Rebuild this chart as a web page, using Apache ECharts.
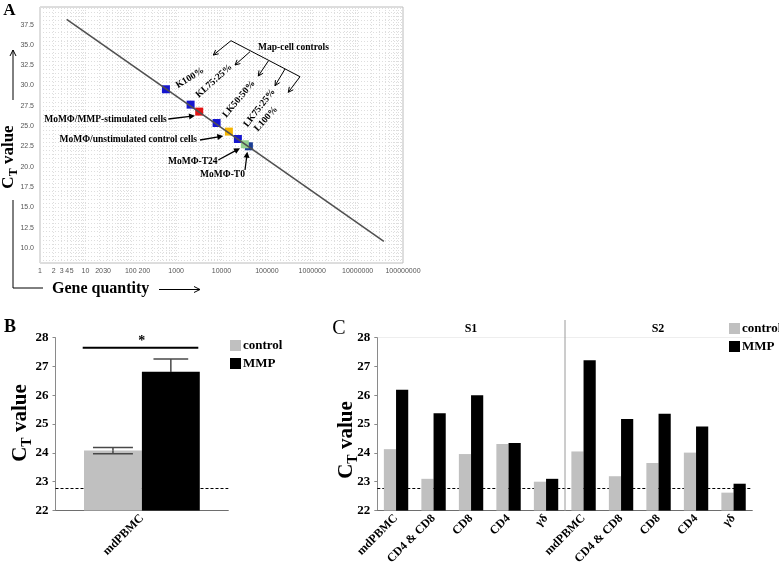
<!DOCTYPE html>
<html><head><meta charset="utf-8">
<script src="https://cdn.jsdelivr.net/npm/echarts@6/dist/echarts.min.js"></script>
<style>html,body{margin:0;padding:0;background:#fff}#c{width:779px;height:564px}</style>
</head><body><div id="c"></div>
<script>
// ---------- Panel A : standard curve ----------
const stdCurveQuantity = [3.87, 3.78e7];
const stdCurveCt = [38.15, 10.82];
const pointNames = ['L100%', 'K100%', 'KL75:25%', 'MoMΦ/MMP-stimulated cells', 'LK50:50%', 'MoMΦ/unstimulated control cells', 'LK75:25%', 'MoMΦ-T24'];
const pointQuantity = [40150, 596, 2085, 3228, 7800, 14550, 22970, 32700];
const pointCt = [22.52, 29.54, 27.65, 26.79, 25.39, 24.33, 23.42, 22.77];
const pointColors = ['#1b3e96', '#1616d0', '#1616d0', '#e21212', '#1616d0', '#f4b400', '#1616d0', '#94d090'];
const aYTickLabels = [10, 12.5, 15, 17.5, 20, 22.5, 25, 27.5, 30, 32.5, 35, 37.5];
const aXTickLabels = [1, 2, 3, 4, 5, 10, 20, 30, 100, 200, 1000, 10000, 100000, 1000000, 10000000, 100000000];

// ---------- Panel B ----------
const bCategories = ['mdPBMC'];
const bControl = [24.08];
const bControlErr = [0.11];
const bMMP = [26.82];
const bMMPErr = [0.44];
const thresholdCt = 22.78;

// ---------- Panel C ----------
const cSubjects = ['S1', 'S2'];
const cCellTypes = ['mdPBMC', 'CD4 & CD8', 'CD8', 'CD4', 'γδ'];
const cControlS1 = [24.13, 23.10, 23.96, 24.31, 23.00];
const cControlS2 = [24.05, 23.19, 23.65, 24.01, 22.62];
const cMMPS1 = [26.19, 25.38, 26.00, 24.34, 23.10];
const cMMPS2 = [27.22, 25.18, 25.36, 24.92, 22.93];

// ---------- helpers ----------
const SERIF = '"Liberation Serif","Times New Roman",serif';
const mctx = document.createElement('canvas').getContext('2d');
function tw(t, font) { mctx.font = font; return mctx.measureText(t).width; }

function txt(t, x, y, size, opts) {
  opts = opts || {};
  return {
    type: 'text', x: x, y: y, rotation: (opts.rot || 0) * Math.PI / 180, z: 50,
    style: {
      text: t, fill: opts.color || '#000',
      font: (opts.weight || 'bold') + ' ' + size + 'px ' + SERIF,
      align: opts.align || 'center', verticalAlign: 'middle'
    }
  };
}
function arrow(x1, y1, x2, y2, o) {
  o = o || {};
  const w = o.width || 1, h = o.head || 6, hw = o.headW || 3, col = o.color || '#000';
  const dx = x2 - x1, dy = y2 - y1, L = Math.hypot(dx, dy), ux = dx / L, uy = dy / L, nx = -uy, ny = ux;
  const bx = x2 - ux * h, by = y2 - uy * h;
  const els = [{ type: 'line', z: 50, shape: { x1: x1, y1: y1, x2: o.filled ? bx + ux : x2, y2: o.filled ? by + uy : y2 }, style: { stroke: col, lineWidth: w } }];
  const pts = [[bx + nx * hw, by + ny * hw], [x2, y2], [bx - nx * hw, by - ny * hw]];
  if (o.filled) els.push({ type: 'polygon', z: 50, shape: { points: pts }, style: { fill: col } });
  else els.push({ type: 'polyline', z: 50, shape: { points: pts }, style: { stroke: col, lineWidth: w, fill: null } });
  return els;
}
function ctTitle(cx, cy, s) {
  const fMain = 'bold ' + s + 'px ' + SERIF, sSub = Math.round(s * 0.68), fSub = 'bold ' + sSub + 'px ' + SERIF;
  const wC = tw('C', fMain), wT = tw('T', fSub), wV = tw(' value', fMain);
  const x0 = -(wC + wT + wV) / 2;
  const mk = (t, x, y, f) => ({ type: 'text', x: x, y: y, style: { text: t, font: f, fill: '#000', align: 'left', verticalAlign: 'middle' } });
  return {
    type: 'group', x: cx, y: cy, rotation: Math.PI / 2, z: 50,
    children: [mk('C', x0, 0, fMain), mk('T', x0 + wC, s * 0.3, fSub), mk(' value', x0 + wC + wT, 0, fMain)]
  };
}

// ---------- derived ----------
const log10 = Math.log10;
const aMinorX = [];
for (let d = 0; d < 8; d++) for (let k = 1; k < 10; k++) aMinorX.push(d + log10(k));
aMinorX.push(8);
const aMinorY = [];
for (let v = 8.5; v <= 39.5; v += 0.5) aMinorY.push(v);
const cCategories = [];
cSubjects.forEach(s => cCellTypes.forEach(c => cCategories.push(s + '|' + c)));
const cControl = cControlS1.concat(cControlS2);
const cMMP = cMMPS1.concat(cMMPS2);

const labelFontB = { fontFamily: SERIF, fontWeight: 'bold', fontSize: 13, color: '#000' };
const thresholdMark = {
  silent: true, symbol: 'none', z: 1, label: { show: false },
  lineStyle: { color: '#000', type: [3, 2], width: 1 },
  data: [{ yAxis: thresholdCt }]
};

const chart = echarts.init(document.getElementById('c'), null, { renderer: 'canvas', width: 779, height: 564 });

const graphics = [];
graphics.push(txt('A', 9.5, 11, 17));
graphics.push(txt('B', 10, 327.5, 18));
graphics.push(txt('C', 339, 329, 20, { weight: 'normal' }));
graphics.push(ctTitle(9, 157, 17));
graphics.push(ctTitle(21, 423, 21));
graphics.push(ctTitle(347, 440, 21));
graphics.push(txt('Gene quantity', 52, 289, 16, { align: 'left' }));
graphics.push(...arrow(13, 100, 13, 50, { head: 6, headW: 3 }));
graphics.push({ type: 'polyline', z: 50, shape: { points: [[13, 200], [13, 288], [43, 288]] }, style: { stroke: '#000', lineWidth: 1, fill: null } });
graphics.push(...arrow(159, 289.5, 200, 289.5, { head: 6, headW: 3 }));
graphics.push(txt('Map-cell controls', 293.5, 47.7, 9.5));
graphics.push(...arrow(231, 40.7, 213.3, 55, { head: 5, headW: 2.5 }));
graphics.push({ type: 'line', z: 50, shape: { x1: 231, y1: 40.7, x2: 300, y2: 76.7 }, style: { stroke: '#000', lineWidth: 1 } });
graphics.push(...arrow(250, 51.7, 235, 65, { head: 5, headW: 2.5 }));
graphics.push(...arrow(268.3, 61, 258.3, 76, { head: 5, headW: 2.5 }));
graphics.push(...arrow(285, 69, 275, 85.7, { head: 5, headW: 2.5 }));
graphics.push(...arrow(300, 76.7, 288.3, 92.3, { head: 5, headW: 2.5 }));
graphics.push(txt('K100%', 190, 78, 9.5, { rot: 32 }));
graphics.push(txt('KL75:25%', 214, 81, 9.5, { rot: 42 }));
graphics.push(txt('LK50:50%', 239, 99, 9.5, { rot: 50 }));
graphics.push(txt('LK75:25%', 259.5, 108, 9.5, { rot: 52 }));
graphics.push(txt('L100%', 266, 119, 9.5, { rot: 48 }));
graphics.push(txt('MoMΦ/MMP-stimulated cells', 105.5, 119.3, 9.5));
graphics.push(...arrow(168.3, 119, 195, 115.7, { filled: true, width: 1.3, head: 6, headW: 3 }));
graphics.push(txt('MoMΦ/unstimulated control cells', 128.3, 140, 9.5));
graphics.push(...arrow(200, 140, 223.3, 136, { filled: true, width: 1.3, head: 6, headW: 3 }));
graphics.push(txt('MoMΦ-T24', 192.8, 161.7, 9.5));
graphics.push(...arrow(218.3, 160, 240, 148.3, { filled: true, width: 1.3, head: 6, headW: 3 }));
graphics.push(txt('MoMΦ-T0', 222.5, 175, 9.5));
graphics.push(...arrow(245, 170, 247.3, 151.7, { filled: true, width: 1.3, head: 6, headW: 3 }));
graphics.push({ type: 'line', z: 50, shape: { x1: 82.7, y1: 347.7, x2: 198.3, y2: 347.7 }, style: { stroke: '#000', lineWidth: 2 } });
graphics.push(txt('*', 141.7, 341, 14));
graphics.push({ type: 'line', z: 1, shape: { x1: 378, y1: 337.5, x2: 752, y2: 337.5 }, style: { stroke: '#eeeeee', lineWidth: 1 } });
graphics.push({ type: 'line', z: 50, shape: { x1: 565, y1: 320, x2: 565, y2: 511 }, style: { stroke: '#9a9a9a', lineWidth: 1 } });
graphics.push(txt('S1', 471, 329, 12));
graphics.push(txt('S2', 658, 329, 12));

const legendBase = {
  orient: 'vertical', icon: 'rect', itemWidth: 11, itemHeight: 11, itemGap: 5, selectedMode: false,
  data: ['control', 'MMP'], padding: 0,
  textStyle: { fontFamily: SERIF, fontWeight: 'bold', fontSize: 13, color: '#000', padding: [0, 0, 0, -3] }
};
const gridLine = { show: true, lineStyle: { color: '#dedede', type: [1, 2], width: 1 } };
const smallSans = '"Liberation Sans Narrow","Liberation Sans",sans-serif';

const option = {
  animation: false,
  backgroundColor: '#fff',
  grid: [
    { left: 40, top: 7, width: 363, height: 256, show: true, borderColor: '#bcbcbc', borderWidth: 1, outerBoundsMode: 'none' },
    { left: 55.5, top: 337.7, width: 172.8, height: 172.8, outerBoundsMode: 'none' },
    { left: 377.3, top: 337.7, width: 375, height: 172.8, outerBoundsMode: 'none' }
  ],
  legend: [
    Object.assign({}, legendBase, { left: 230, top: 339 }),
    Object.assign({}, legendBase, { left: 729, top: 322 })
  ],
  xAxis: [
    {
      gridIndex: 0, type: 'value', min: 0, max: 8,
      axisLine: { show: false },
      axisTick: { show: false, customValues: aMinorX },
      axisLabel: {
        customValues: aXTickLabels.map(log10), formatter: v => String(Math.round(Math.pow(10, v))),
        fontSize: 7, color: '#555', margin: 5, fontFamily: smallSans
      },
      splitLine: gridLine
    },
    {
      gridIndex: 1, type: 'category', data: bCategories,
      axisLine: { lineStyle: { color: '#6e6e6e', width: 1 } }, axisTick: { show: false },
      axisLabel: { interval: 0, rotate: 45, margin: 6, fontFamily: SERIF, fontWeight: 'bold', fontSize: 12, color: '#000' }
    },
    {
      gridIndex: 2, type: 'category', data: cCategories,
      axisLine: { lineStyle: { color: '#6e6e6e', width: 1 } }, axisTick: { show: false },
      axisLabel: { interval: 0, rotate: 45, margin: 6, fontFamily: SERIF, fontWeight: 'bold', fontSize: 12, color: '#000', formatter: v => v.split('|')[1] }
    }
  ],
  yAxis: [
    {
      gridIndex: 0, type: 'value', min: 8.15, max: 39.67,
      axisLine: { show: false },
      axisTick: { show: false, customValues: aMinorY },
      axisLabel: {
        customValues: aYTickLabels, formatter: v => v.toFixed(1),
        fontSize: 7, color: '#555', margin: 6, fontFamily: smallSans
      },
      splitLine: gridLine
    },
    {
      gridIndex: 1, type: 'value', min: 22, max: 28, interval: 1,
      axisLine: { show: true, lineStyle: { color: '#8a8a8a' } },
      axisTick: { show: true, length: 3, lineStyle: { color: '#8a8a8a' } },
      axisLabel: Object.assign({ margin: 7 }, labelFontB),
      splitLine: { show: false }
    },
    {
      gridIndex: 2, type: 'value', min: 22, max: 28, interval: 1,
      axisLine: { show: true, lineStyle: { color: '#8a8a8a' } },
      axisTick: { show: true, length: 3, lineStyle: { color: '#8a8a8a' } },
      axisLabel: Object.assign({ margin: 7 }, labelFontB),
      splitLine: { show: false }
    }
  ],
  series: [
    {
      name: 'standard curve', type: 'line', xAxisIndex: 0, yAxisIndex: 0, symbol: 'none', silent: true,
      data: stdCurveQuantity.map((q, i) => [log10(q), stdCurveCt[i]]),
      lineStyle: { color: '#505050', width: 1.6 }
    },
    {
      name: 'samples', type: 'scatter', xAxisIndex: 0, yAxisIndex: 0, symbol: 'rect', symbolSize: 8,
      data: pointQuantity.map((q, i) => ({ name: pointNames[i], value: [log10(q), pointCt[i]] })),
      itemStyle: { color: p => pointColors[p.dataIndex], opacity: 1 }
    },
    {
      name: 'control', type: 'bar', xAxisIndex: 1, yAxisIndex: 1, data: bControl,
      barGap: '0%', barCategoryGap: '33%', itemStyle: { color: '#c0c0c0' },
      markLine: thresholdMark
    },
    {
      name: 'MMP', type: 'bar', xAxisIndex: 1, yAxisIndex: 1, data: bMMP,
      barGap: '0%', barCategoryGap: '33%', itemStyle: { color: '#000' }
    },
    {
      name: 'error', type: 'custom', xAxisIndex: 1, yAxisIndex: 1, z: 4, silent: true,
      data: bCategories.map((c, i) => [i, bControl[i], bControlErr[i], bMMP[i], bMMPErr[i]]),
      renderItem: function (params, api) {
        const i = api.value(0);
        const band = api.size([1, 0])[0];
        const bw = band * (1 - 0.33) / 2;
        const children = [];
        // [value, error, side, cap ratio, colour of the part inside the bar]
        [[api.value(1), api.value(2), -1, 0.69, '#484848'], [api.value(3), api.value(4), 1, 0.6, '#000']].forEach(function (a) {
          const v = a[0], e = a[1], s = a[2], capW = bw * a[3], inner = a[4];
          const cx = api.coord([i, v])[0] + s * bw / 2;
          const mid = api.coord([i, v])[1];
          const top = api.coord([i, v + e])[1];
          const bot = api.coord([i, v - e])[1];
          const st = { stroke: '#484848', lineWidth: 1.5 };
          const stIn = { stroke: inner, lineWidth: 1.5 };
          children.push({ type: 'line', shape: { x1: cx, y1: mid, x2: cx, y2: top }, style: st });
          children.push({ type: 'line', shape: { x1: cx, y1: bot, x2: cx, y2: mid }, style: stIn });
          children.push({ type: 'line', shape: { x1: cx - capW / 2, y1: top, x2: cx + capW / 2, y2: top }, style: st });
          children.push({ type: 'line', shape: { x1: cx - capW / 2, y1: bot, x2: cx + capW / 2, y2: bot }, style: stIn });
        });
        return { type: 'group', children: children };
      }
    },
    {
      name: 'control', type: 'bar', xAxisIndex: 2, yAxisIndex: 2, data: cControl,
      barGap: '0%', barCategoryGap: '35%', itemStyle: { color: '#c0c0c0' },
      markLine: thresholdMark
    },
    {
      name: 'MMP', type: 'bar', xAxisIndex: 2, yAxisIndex: 2, data: cMMP,
      barGap: '0%', barCategoryGap: '35%', itemStyle: { color: '#000' }
    }
  ],
  graphic: graphics
};
chart.setOption(option);
</script>
</body></html>
